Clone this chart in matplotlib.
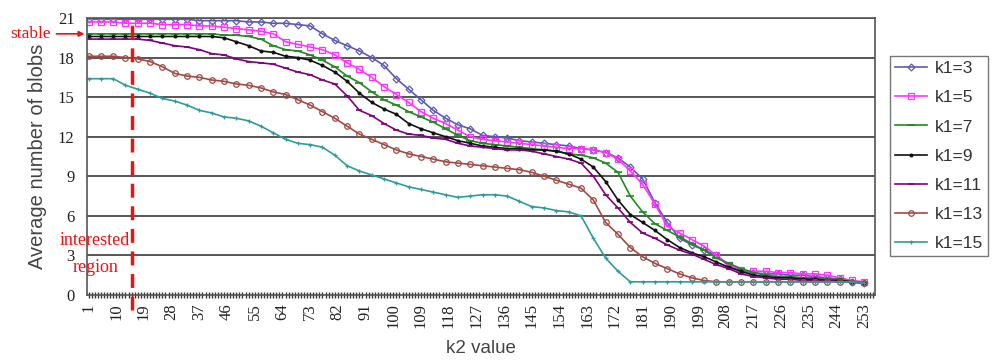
import numpy as np
import matplotlib
matplotlib.use('Agg')
import matplotlib.pyplot as plt

k2 = list(range(1, 254, 4))

k1_3 = [20.9, 20.9, 20.9, 20.9, 20.9, 20.9, 20.9, 20.9, 20.9, 20.8,
        20.8, 20.8, 20.8, 20.7, 20.7, 20.6, 20.6, 20.5, 20.4, 19.8,
        19.3, 18.9, 18.5, 18.0, 17.4, 16.4, 15.6, 14.8, 14.0, 13.4,
        12.9, 12.6, 12.1, 12.0, 11.9, 11.7, 11.6, 11.5, 11.4, 11.3,
        11.1, 11.0, 10.8, 10.4, 9.7, 8.8, 7.0, 5.5, 4.3, 3.8,
        3.4, 3.0, 2.2, 1.8, 1.7, 1.6, 1.6, 1.5, 1.5, 1.4,
        1.3, 1.2, 1.0, 0.9]
k1_5 = [20.7, 20.7, 20.7, 20.6, 20.6, 20.6, 20.5, 20.5, 20.5, 20.4,
        20.4, 20.3, 20.2, 20.1, 20.0, 19.8, 19.2, 19.0, 18.8, 18.6,
        18.2, 17.6, 17.1, 16.5, 15.8, 15.2, 14.6, 13.9, 13.4, 13.0,
        12.5, 12.0, 11.8, 11.7, 11.6, 11.5, 11.4, 11.3, 11.2, 11.1,
        11.1, 11.0, 10.8, 10.3, 9.4, 8.4, 6.9, 5.2, 4.7, 4.2,
        3.7, 3.0, 2.3, 1.9, 1.8, 1.8, 1.7, 1.7, 1.6, 1.6,
        1.5, 1.3, 1.1, 1.0]
k1_7 = [19.8, 19.8, 19.8, 19.8, 19.8, 19.8, 19.8, 19.8, 19.8, 19.8,
        19.8, 19.7, 19.7, 19.6, 19.4, 18.9, 18.6, 18.5, 18.2, 17.8,
        17.3, 16.6, 16.1, 15.4, 14.8, 14.4, 13.9, 13.5, 13.1, 12.6,
        12.1, 11.7, 11.5, 11.4, 11.3, 11.2, 11.1, 11.0, 10.9, 10.7,
        10.6, 10.4, 10.0, 9.3, 7.5, 6.3, 5.4, 4.9, 4.4, 3.9,
        3.4, 2.8, 2.4, 2.0, 1.7, 1.5, 1.4, 1.4, 1.3, 1.3,
        1.2, 1.2, 1.0, 0.9]
k1_9 = [19.6, 19.6, 19.6, 19.6, 19.6, 19.6, 19.6, 19.6, 19.6, 19.6,
        19.6, 19.5, 19.2, 18.9, 18.5, 18.4, 18.1, 18.0, 17.8, 17.4,
        16.9, 16.2, 15.3, 14.6, 14.1, 13.7, 13.0, 12.6, 12.3, 12.0,
        11.7, 11.5, 11.3, 11.2, 11.1, 11.1, 11.0, 11.0, 10.9, 10.7,
        10.3, 9.7, 8.6, 7.2, 6.1, 5.5, 4.9, 4.2, 3.6, 3.2,
        2.9, 2.5, 2.1, 1.8, 1.5, 1.4, 1.3, 1.3, 1.2, 1.2,
        1.1, 1.1, 1.0, 0.9]
k1_11 = [19.4, 19.4, 19.4, 19.4, 19.4, 19.3, 19.1, 18.9, 18.8, 18.6,
         18.3, 18.2, 17.9, 17.7, 17.6, 17.5, 17.2, 16.9, 16.7, 16.3,
         16.0, 15.1, 14.0, 13.6, 13.0, 12.5, 12.2, 12.1, 11.9, 11.8,
         11.5, 11.3, 11.2, 11.1, 11.0, 11.0, 10.9, 10.7, 10.5, 10.3,
         10.0, 9.0, 7.6, 6.6, 5.5, 4.7, 4.3, 3.8, 3.4, 3.1,
         2.7, 2.3, 2.0, 1.6, 1.4, 1.3, 1.2, 1.2, 1.1, 1.1,
         1.1, 1.0, 1.0, 0.9]
k1_13 = [18.1, 18.1, 18.1, 18.0, 17.9, 17.7, 17.3, 16.8, 16.6, 16.5,
         16.3, 16.2, 16.0, 15.9, 15.7, 15.4, 15.2, 14.8, 14.4, 13.9,
         13.4, 12.8, 12.2, 11.8, 11.4, 11.0, 10.7, 10.5, 10.3, 10.1,
         10.0, 9.9, 9.8, 9.7, 9.6, 9.5, 9.3, 9.0, 8.7, 8.4,
         8.1, 7.2, 5.5, 4.6, 3.6, 2.9, 2.4, 2.0, 1.6, 1.3,
         1.1, 1.0, 1.0, 1.0, 1.0, 1.0, 1.0, 1.0, 1.0, 1.0,
         1.0, 1.0, 1.0, 0.9]
k1_15 = [16.4, 16.4, 16.4, 15.9, 15.6, 15.3, 14.9, 14.7, 14.4, 14.0,
         13.8, 13.5, 13.4, 13.2, 12.8, 12.3, 11.8, 11.5, 11.4, 11.2,
         10.6, 9.8, 9.4, 9.1, 8.8, 8.5, 8.2, 8.0, 7.8, 7.6,
         7.4, 7.5, 7.6, 7.6, 7.5, 7.1, 6.7, 6.6, 6.4, 6.3,
         6.0, 4.3, 2.8, 1.8, 1.0, 1.0, 1.0, 1.0, 1.0, 1.0,
         1.0, 1.0, 1.0, 1.0, 1.0, 1.0, 1.0, 1.0, 1.0, 1.0,
         1.0, 1.0, 1.0, 0.9]

labels = ['k1=3', 'k1=5', 'k1=7', 'k1=9', 'k1=11', 'k1=13', 'k1=15']
series = [k1_3, k1_5, k1_7, k1_9, k1_11, k1_13, k1_15]
colors = ['#5b5bb5', '#ff33ff', '#1e8c1e', '#111111', '#800080', '#a04a44', '#2e9c9c']
markers = ['D', 's', '_', '.', '_', 'o', '+']
msizes = [3.5, 4, 6, 4, 4, 4, 3.5]

stable_k2 = 15
x_ticks = list(range(1, 254, 9))
y_ticks = list(range(0, 22, 3))

fig = plt.figure(figsize=(9.95, 3.6), dpi=100)
ax = fig.add_axes([87/995, 1 - 295/360, 788/995, 277/360])

for vals, lab, c, m, ms in zip(series, labels, colors, markers, msizes):
    face = 'none' if m in ('D', 's', 'o') else c
    ax.plot(k2, vals, color=c, lw=1.2, marker=m, markersize=ms,
            markerfacecolor=face, markeredgecolor=c, markeredgewidth=1.2 if m == '_' else 0.9,
            label=lab)

ax.set_xlim(0.5, 256.5)
ax.set_ylim(0, 21)

# grid & frame
for y in y_ticks[1:]:
    ax.axhline(y, color='#555555', lw=1.4, zorder=0)
for s in ax.spines.values():
    s.set_color('#555555')
    s.set_linewidth(1.2)

ax.set_yticks(y_ticks)
ax.set_yticklabels([str(v) for v in y_ticks], family='Liberation Serif', fontsize=12, color='#222222')
ax.set_xticks(x_ticks)
ax.set_xticklabels([str(v) for v in x_ticks], rotation=90, family='Liberation Serif',
                   fontsize=12, color='#222222')
ax.set_xticks(range(1, 257), minor=True)
ax.tick_params(axis='x', which='both', direction='inout', length=4, width=1, color='#333333')
ax.tick_params(axis='x', which='major', pad=4)
ax.tick_params(axis='y', length=0, pad=9)

ax.set_ylabel('Average number of blobs', family='Liberation Sans', fontsize=14.5,
              color='#444444', labelpad=8)
ax.set_xlabel('k2 value', family='Liberation Sans', fontsize=13.5, color='#444444', labelpad=8)

# interested region marker
ax.axvline(stable_k2, ymin=-0.055, ymax=1, color='#ee1111', lw=2.5,
           ls=(0, (4, 2.5)), clip_on=False, zorder=5)

ax.annotate('stable', xy=(0.6, 19.8), xytext=(-77, 0), textcoords='offset pixels',
            ha='left', va='center', color='#ee1111', family='Liberation Serif', fontsize=12.5,
            arrowprops=dict(arrowstyle='-|>', color='#ee1111', lw=1.2, mutation_scale=8))
ax.text(-8.5, 4.1, 'interested', color='#ee1111', family='Liberation Serif',
        fontsize=13, ha='left', va='center')
ax.text(-4.0, 2.05, 'region', color='#ee1111', family='Liberation Serif',
        fontsize=13, ha='left', va='center')

leg = ax.legend(loc='center', bbox_to_anchor=(939/995, 1 - 156/360),
                bbox_transform=fig.transFigure, frameon=True, fancybox=False,
                borderaxespad=0, prop={'family': 'Liberation Sans', 'size': 12.5},
                labelspacing=0.8, handlelength=1.85, borderpad=0.3, handletextpad=0.4)
leg.get_frame().set_edgecolor('#555555')
leg.get_frame().set_linewidth(1.0)
for t in leg.get_texts():
    t.set_color('#333333')

fig.savefig('out.png', dpi=100)
